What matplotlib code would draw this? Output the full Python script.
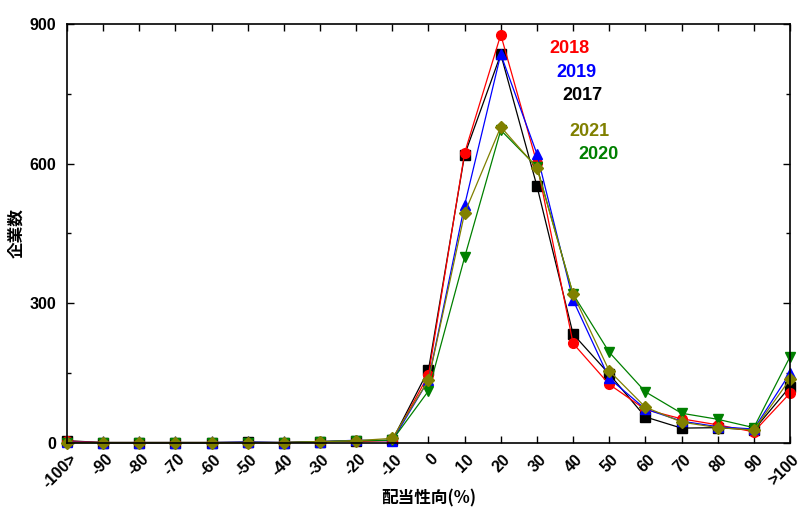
import numpy as np
import matplotlib.pyplot as plt
import matplotlib.transforms as mtransforms
from matplotlib.ticker import MultipleLocator

plt.rcParams['font.family'] = ['Liberation Sans', 'Noto Sans CJK JP']
plt.rcParams['font.weight'] = 'bold'

categories = ['-100>', '-90', '-80', '-70', '-60', '-50', '-40', '-30', '-20', '-10',
              '0', '10', '20', '30', '40', '50', '60', '70', '80', '90', '>100']

v2017 = [5, 1, 1, 1, 1, 2, 1, 3, 4, 6, 157, 619, 835, 552, 234, 148, 56, 32, 33, 28, 121]
v2018 = [4, 1, 1, 1, 1, 1, 1, 3, 4, 5, 146, 623, 877, 601, 214, 126, 72, 52, 39, 24, 107]
v2019 = [2, 1, 1, 1, 1, 2, 1, 3, 6, 5, 135, 511, 835, 621, 307, 139, 73, 47, 35, 30, 150]
v2020 = [1, 1, 1, 1, 1, 1, 1, 3, 5, 6, 112, 399, 672, 593, 320, 195, 110, 64, 51, 33, 185]
v2021 = [1, 1, 1, 1, 1, 1, 1, 3, 5, 10, 135, 494, 679, 591, 320, 155, 77, 45, 33, 28, 137]

series = [
    ('2017', v2017, 'black', 's'),
    ('2018', v2018, 'red', 'o'),
    ('2019', v2019, 'blue', '^'),
    ('2020', v2020, 'green', 'v'),
    ('2021', v2021, 'olive', 'D'),
]

# label positions in data coords
label_pos = {
    '2018': (13.35, 848),
    '2019': (13.55, 795),
    '2017': (13.7, 746),
    '2021': (13.9, 670),
    '2020': (14.15, 620),
}

fig = plt.figure(figsize=(8.02, 5.07), dpi=100)
ax = fig.add_axes([0.0835, 0.1262, 0.9015, 0.8265])

x = np.arange(len(categories))
for name, vals, col, mk in series:
    ms = 6.5 if mk == 'D' else 7
    ax.plot(x, vals, color=col, marker=mk, markersize=ms, linewidth=0.9, clip_on=False)
    tx, ty = label_pos[name]
    ax.text(tx, ty, name, color=col, fontsize=13, fontweight='bold', ha='left', va='center')

ax.set_xlim(0, len(categories) - 1)
ax.set_ylim(0, 900)
ax.set_xticks(x)
ax.set_xticklabels(categories, rotation=45, ha='right', va='center', rotation_mode='anchor')
ax.set_yticks([0, 300, 600, 900])
ax.yaxis.set_minor_locator(MultipleLocator(150))
ax.tick_params(direction='in', top=True, right=True, labelsize=11.5, length=5, width=1)
ax.tick_params(axis='y', pad=8)
ax.tick_params(axis='x', pad=10)
ax.tick_params(which='minor', direction='in', right=True, length=3, width=1)

# nudge the slanted x labels to the right of their ticks
shift = mtransforms.ScaledTranslation(7 / 100, 0, fig.dpi_scale_trans)
for lab in ax.get_xticklabels():
    lab.set_transform(lab.get_transform() + shift)
for lab in ax.get_xticklabels() + ax.get_yticklabels():
    lab.set_fontweight('bold')
for sp in ax.spines.values():
    sp.set_linewidth(1.2)

ax.set_xlabel('配当性向(%)', fontsize=12, fontweight='bold',
              family=['Noto Sans CJK JP', 'Liberation Sans'])
ax.set_ylabel('企業数', fontsize=12, fontweight='bold',
              family=['Noto Sans CJK JP', 'Liberation Sans'])
ax.xaxis.set_label_coords(0.5, -0.112)
ax.yaxis.set_label_coords(-0.057, 0.5)

fig.savefig('out.png', dpi=100)
